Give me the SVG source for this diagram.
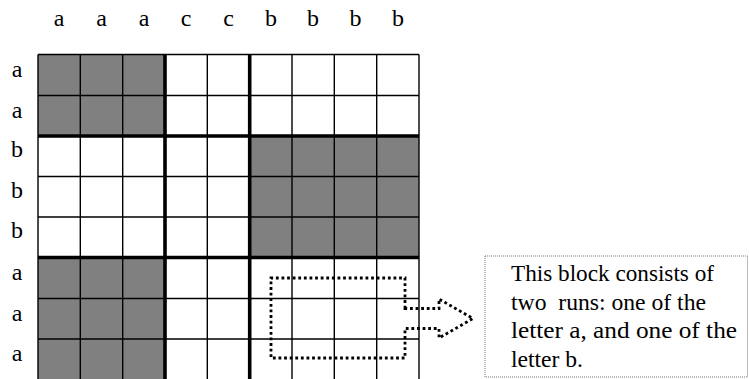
<svg xmlns="http://www.w3.org/2000/svg" width="749" height="379" viewBox="0 0 749 379">
<style>
.lbl{font-family:"Liberation Serif","DejaVu Serif",serif;font-size:24px;fill:#000;text-anchor:middle}
.note{font-family:"Liberation Serif","DejaVu Serif",serif;font-size:24px;fill:#000}
.g{fill:#808080}
.thin{stroke:#000;stroke-width:1.4;fill:none}
.thick{stroke:#000;stroke-width:3.6;fill:none}
</style>
<rect width="749" height="379" fill="#fff"/>
<g id="col-labels">
<text class="lbl" x="59" y="26">a</text>
<text class="lbl" x="101.5" y="26">a</text>
<text class="lbl" x="144" y="26">a</text>
<text class="lbl" x="186" y="26">c</text>
<text class="lbl" x="228.5" y="26">c</text>
<text class="lbl" x="271" y="26">b</text>
<text class="lbl" x="313" y="26">b</text>
<text class="lbl" x="355.5" y="26">b</text>
<text class="lbl" x="398" y="26">b</text>
</g>
<g id="row-labels">
<text class="lbl" x="17" y="77">a</text>
<text class="lbl" x="17" y="117.5">a</text>
<text class="lbl" x="17" y="157">b</text>
<text class="lbl" x="17" y="197.5">b</text>
<text class="lbl" x="17" y="238">b</text>
<text class="lbl" x="17" y="280">a</text>
<text class="lbl" x="17" y="320.5">a</text>
<text class="lbl" x="17" y="361">a</text>
</g>
<g id="grid">
<rect x="38" y="54.5" width="381" height="325.5" fill="#fff"/>
<rect class="g" x="38" y="54.5" width="127" height="81.5"/>
<rect class="g" x="249.7" y="136" width="169.3" height="121.5"/>
<rect class="g" x="38" y="257.5" width="127" height="122.5"/>
<path class="thin" d="M38,54.5V380M80.3,54.5V380M122.7,54.5V380M207.3,54.5V380M292,54.5V380M334.3,54.5V380M376.7,54.5V380M419,54.5V380
M38,54.5H419M38,95.5H419M38,176.5H419M38,217H419M38,298.5H419M38,339H419"/>
<path class="thick" d="M165,54.5V380M249.7,54.5V380M38,136H419M38,257.5H419"/>
</g>
<g id="connectors">
<path d="M405,308.5V278H271V358H405V328.5H439V338L473,318.5L439,299V308.5Z" fill="none" stroke="#000" stroke-width="2.8" stroke-dasharray="2.8 2.8"/>
</g>
<g id="note">
<rect x="485" y="256" width="262.5" height="121" fill="#fff" stroke="#777" stroke-width="1" stroke-dasharray="1 1"/>
<text class="note" x="511" y="281" textLength="203" lengthAdjust="spacingAndGlyphs">This block consists of</text>
<text class="note" x="511" y="309.5" xml:space="preserve" textLength="195" lengthAdjust="spacingAndGlyphs">two  runs: one of the</text>
<text class="note" x="511" y="338" textLength="226" lengthAdjust="spacingAndGlyphs">letter a, and one of the</text>
<text class="note" x="511" y="366.5" textLength="72" lengthAdjust="spacingAndGlyphs">letter b.</text>
</g>
</svg>
